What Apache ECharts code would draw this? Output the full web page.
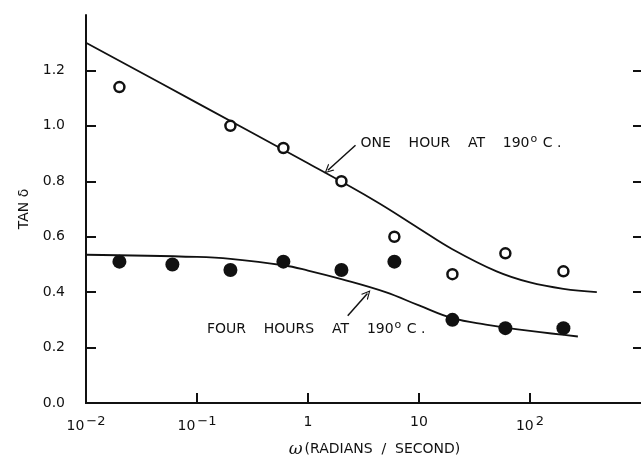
<!DOCTYPE html>
<html>
<head>
<meta charset="UTF-8">
<title>tan delta vs omega</title>
<script src="https://cdn.jsdelivr.net/npm/echarts@6/dist/echarts.min.js"></script>
<style>
  html, body { margin: 0; padding: 0; background: #fff; }
  #chart { width: 641px; height: 463px; }
</style>
</head>
<body>
<div id="chart"></div>
<script>
// measured points (omega in rad/s, tan delta)
const oneHourOmega = [0.02, 0.2, 0.6, 2, 6, 20, 60, 200];
const oneHourTan = [1.14, 1.00, 0.92, 0.80, 0.60, 0.465, 0.54, 0.475];
const fourHourOmega = [0.02, 0.06, 0.2, 0.6, 2, 6, 20, 60, 200];
const fourHourTan = [0.51, 0.50, 0.48, 0.51, 0.48, 0.51, 0.30, 0.27, 0.27];

// drawn curves
const oneHourCurveOmega = [0.01, 0.1, 1, 4, 10, 20, 50, 100, 200, 400];
const oneHourCurveTan = [1.30, 1.083, 0.865, 0.73, 0.63, 0.555, 0.475, 0.435, 0.412, 0.40];
const fourHourCurveOmega = [0.01, 0.1, 0.2, 0.6, 1, 2, 5, 10, 20, 40, 100, 270];
const fourHourCurveTan = [0.535, 0.527, 0.52, 0.497, 0.478, 0.447, 0.400, 0.352, 0.306, 0.283, 0.26, 0.24];

const xLabelValues = [0.01, 0.1, 1, 10, 100];
const xTickValues = [0.1, 1, 10, 100];
const yTickValues = [0.2, 0.4, 0.6, 0.8, 1.0, 1.2];
const yLabelValues = [0, 0.2, 0.4, 0.6, 0.8, 1.0, 1.2];

const zip = (xs, ys) => xs.map((x, i) => [x, ys[i]]);

const font = 'DejaVu Sans';
const ink = '#111';

const chart = echarts.init(document.getElementById('chart'));

chart.setOption({
  animation: false,
  grid: { left: 86, right: 0, top: 15, bottom: 57 },
  xAxis: [
    {
      type: 'log', logBase: 10, min: 0.01, max: 1000,
      axisLine: { lineStyle: { color: ink, width: 2 } },
      axisTick: { inside: true, length: 10, customValues: xTickValues, lineStyle: { color: ink, width: 2 } },
      splitLine: { show: false },
      minorTick: { show: false },
      axisLabel: {
        customValues: xLabelValues, margin: 12, color: ink,
        fontFamily: font, fontSize: 14,
        formatter: function (v) {
          const e = Math.round(Math.log10(v));
          if (e === 0) return '{b|1}';
          if (e === 1) return '{b|10}';
          return '{b|10}{s|' + (e < 0 ? '\u2212' : '') + Math.abs(e) + '}';
        },
        rich: {
          b: { fontFamily: font, fontSize: 14, color: ink },
          s: { fontFamily: font, fontSize: 13, color: ink, padding: [0, 0, 10, 2] }
        }
      },
      name: '{w|\u03c9}{t|(RADIANS  /  SECOND)}',
      nameLocation: 'middle', nameGap: 38,
      nameTextStyle: {
        rich: {
          w: { fontFamily: 'DejaVu Serif', fontStyle: 'italic', fontSize: 17, color: ink, padding: [0, 2, 0, 22] },
          t: { fontFamily: font, fontSize: 14, color: ink }
        }
      }
    },
    {
      type: 'log', logBase: 10, min: 0.01, max: 1000, position: 'top',
      axisLine: { show: true, lineStyle: { color: ink, width: 2 } },
      axisTick: { show: false }, axisLabel: { show: false }, splitLine: { show: false }
    }
  ],
  yAxis: [
    {
      type: 'value', min: 0, max: 1.4, interval: 0.2,
      axisLine: { show: true, lineStyle: { color: ink, width: 2 } },
      axisTick: { inside: true, length: 10, customValues: yTickValues, lineStyle: { color: ink, width: 2 } },
      splitLine: { show: false },
      axisLabel: {
        customValues: yLabelValues, margin: 21, color: ink,
        fontFamily: font, fontSize: 14,
        formatter: v => v.toFixed(1)
      },
      name: 'TAN \u03b4', nameLocation: 'middle', nameGap: 52,
      nameTextStyle: { fontFamily: font, fontSize: 14, color: ink }
    },
    {
      type: 'value', min: 0, max: 1.4, interval: 0.2, position: 'right',
      axisLine: { show: false },
      axisTick: { show: true, inside: true, length: 8, customValues: yTickValues, lineStyle: { color: ink, width: 2 } },
      axisLabel: { show: false }, splitLine: { show: false }
    }
  ],
  series: [
    {
      name: 'one hour curve', type: 'line', data: zip(oneHourCurveOmega, oneHourCurveTan),
      smooth: 0.4, showSymbol: false, lineStyle: { color: ink, width: 1.8, opacity: 1 }
    },
    {
      name: 'four hours curve', type: 'line', data: zip(fourHourCurveOmega, fourHourCurveTan),
      smooth: 0.4, showSymbol: false, lineStyle: { color: ink, width: 1.8, opacity: 1 }
    },
    {
      name: 'one hour', type: 'scatter', data: zip(oneHourOmega, oneHourTan),
      symbol: 'circle', symbolSize: 10,
      itemStyle: { color: '#fff', borderColor: ink, borderWidth: 2.5, opacity: 1 }, z: 5
    },
    {
      name: 'four hours', type: 'scatter', data: zip(fourHourOmega, fourHourTan),
      symbol: 'circle', symbolSize: 14,
      itemStyle: { color: ink, opacity: 1 }, z: 5
    },
    {
      name: 'arrows', type: 'lines', coordinateSystem: 'cartesian2d',
      symbol: ['none', 'path://M5,0 L10,10 L8.6,10 L5,2.6 L1.4,10 L0,10 Z'],
      symbolSize: 9,
      lineStyle: { color: ink, width: 1.5, curveness: 0, opacity: 1 },
      data: [
        { coords: [[2.68, 0.93], [1.51, 0.84]] },
        { coords: [[2.28, 0.315], [3.43, 0.395]] }
      ]
    },
    {
      name: 'notes', type: 'scatter', symbolSize: 0, silent: true,
      itemStyle: { opacity: 1 },
      label: {
        show: true, position: 'right', distance: 0, color: ink,
        formatter: p => p.data.text,
        rich: {
          t: { fontFamily: font, fontSize: 14, color: ink },
          o: { fontFamily: font, fontSize: 11, color: ink, padding: [0, 1, 8, 1] }
        }
      },
      data: [
        { value: [2.97, 0.937], text: '{t|ONE    HOUR    AT    190}{o|o}{t| C .}' },
        { value: [0.123, 0.267], text: '{t|FOUR    HOURS    AT    190}{o|o}{t| C .}' }
      ]
    }
  ]
});
</script>
</body>
</html>
